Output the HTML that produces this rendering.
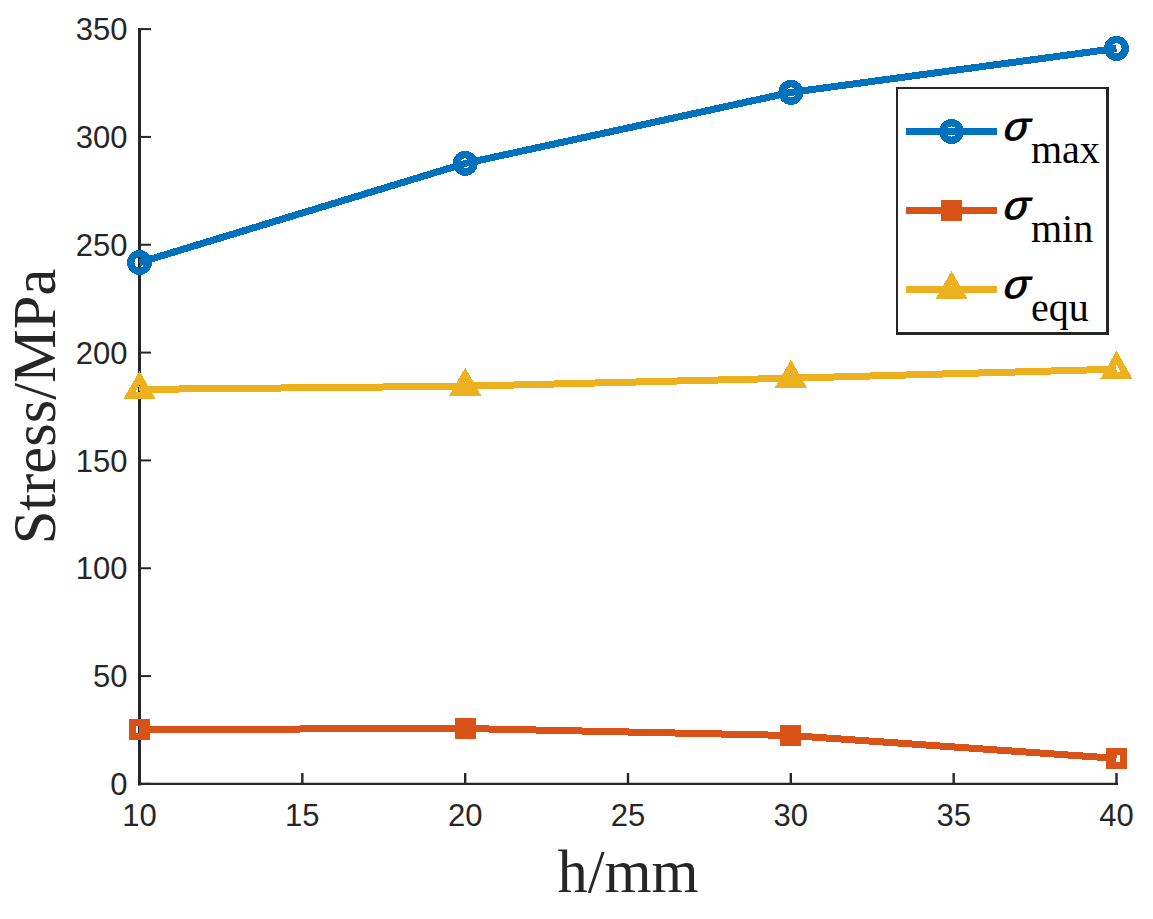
<!DOCTYPE html>
<html><head><meta charset="utf-8"><style>
html,body{margin:0;padding:0;background:#fff;}
svg{display:block;}
.tk{font-family:"Liberation Sans",sans-serif;font-size:31px;fill:#262626;}
.al{font-family:"Liberation Serif",serif;font-size:60.5px;fill:#262626;}
.sg{font-family:"Liberation Sans",sans-serif;font-style:italic;font-size:40px;fill:#000;stroke:#000;stroke-width:0.9px;}
.sb{font-family:"Liberation Serif",serif;font-size:40px;fill:#000;}
</style></head><body>
<svg width="1153" height="919" viewBox="0 0 1153 919">
<rect width="1153" height="919" fill="#fff"/>
<path d="M139.5 28 V785.4" stroke="#262626" stroke-width="3" fill="none"/>
<path d="M138 783.9 H1118" stroke="#262626" stroke-width="2.2" fill="none"/>
<path d="M139.5 783.90 H151" stroke="#262626" stroke-width="2" fill="none"/>
<text x="127.5" y="795.10" text-anchor="end" class="tk">0</text>
<path d="M139.5 676.07 H151" stroke="#262626" stroke-width="2" fill="none"/>
<text x="127.5" y="687.27" text-anchor="end" class="tk">50</text>
<path d="M139.5 568.24 H151" stroke="#262626" stroke-width="2" fill="none"/>
<text x="127.5" y="579.44" text-anchor="end" class="tk">100</text>
<path d="M139.5 460.41 H151" stroke="#262626" stroke-width="2" fill="none"/>
<text x="127.5" y="471.61" text-anchor="end" class="tk">150</text>
<path d="M139.5 352.58 H151" stroke="#262626" stroke-width="2" fill="none"/>
<text x="127.5" y="363.78" text-anchor="end" class="tk">200</text>
<path d="M139.5 244.75 H151" stroke="#262626" stroke-width="2" fill="none"/>
<text x="127.5" y="255.95" text-anchor="end" class="tk">250</text>
<path d="M139.5 136.92 H151" stroke="#262626" stroke-width="2" fill="none"/>
<text x="127.5" y="148.12" text-anchor="end" class="tk">300</text>
<path d="M139.5 29.09 H151" stroke="#262626" stroke-width="2" fill="none"/>
<text x="127.5" y="40.29" text-anchor="end" class="tk">350</text>
<path d="M139.50 783.9 V773" stroke="#262626" stroke-width="2.4" fill="none"/>
<text x="139.50" y="826" text-anchor="middle" class="tk">10</text>
<path d="M302.33 783.9 V773" stroke="#262626" stroke-width="2.4" fill="none"/>
<text x="302.33" y="826" text-anchor="middle" class="tk">15</text>
<path d="M465.17 783.9 V773" stroke="#262626" stroke-width="2.4" fill="none"/>
<text x="465.17" y="826" text-anchor="middle" class="tk">20</text>
<path d="M628.00 783.9 V773" stroke="#262626" stroke-width="2.4" fill="none"/>
<text x="628.00" y="826" text-anchor="middle" class="tk">25</text>
<path d="M790.83 783.9 V773" stroke="#262626" stroke-width="2.4" fill="none"/>
<text x="790.83" y="826" text-anchor="middle" class="tk">30</text>
<path d="M953.67 783.9 V773" stroke="#262626" stroke-width="2.4" fill="none"/>
<text x="953.67" y="826" text-anchor="middle" class="tk">35</text>
<path d="M1116.50 783.9 V773" stroke="#262626" stroke-width="2.4" fill="none"/>
<text x="1116.50" y="826" text-anchor="middle" class="tk">40</text>
<g shape-rendering="crispEdges">
<circle cx="139.50" cy="262.50" r="8.8" fill="none" stroke="#0072BD" stroke-width="7.4"/>
<circle cx="465.20" cy="163.40" r="8.8" fill="none" stroke="#0072BD" stroke-width="7.4"/>
<circle cx="790.90" cy="92.40" r="8.8" fill="none" stroke="#0072BD" stroke-width="7.4"/>
<circle cx="1116.50" cy="48.40" r="8.8" fill="none" stroke="#0072BD" stroke-width="7.4"/>
<polyline points="139.50,262.50 465.20,163.40 790.90,92.40 1116.50,48.40" fill="none" stroke="#0072BD" stroke-width="7" stroke-linejoin="round"/>
<rect x="132.50" y="722.50" width="14" height="14" fill="none" stroke="#D95319" stroke-width="7"/>
<rect x="458.20" y="721.50" width="14" height="14" fill="none" stroke="#D95319" stroke-width="7"/>
<rect x="783.90" y="728.50" width="14" height="14" fill="none" stroke="#D95319" stroke-width="7"/>
<rect x="1109.50" y="751.40" width="14" height="14" fill="none" stroke="#D95319" stroke-width="7"/>
<polyline points="139.50,729.50 465.20,728.50 790.90,735.50 1116.50,758.40" fill="none" stroke="#D95319" stroke-width="7" stroke-linejoin="round"/>
<path d="M139.50 377.90 L149.60 395.50 L129.40 395.50 Z" fill="none" stroke="#EDB120" stroke-width="7" stroke-linejoin="miter"/>
<path d="M465.20 374.70 L475.30 392.30 L455.10 392.30 Z" fill="none" stroke="#EDB120" stroke-width="7" stroke-linejoin="miter"/>
<path d="M790.90 366.70 L801.00 384.30 L780.80 384.30 Z" fill="none" stroke="#EDB120" stroke-width="7" stroke-linejoin="miter"/>
<path d="M1116.50 357.70 L1126.60 375.30 L1106.40 375.30 Z" fill="none" stroke="#EDB120" stroke-width="7" stroke-linejoin="miter"/>
<polyline points="139.50,389.40 465.20,386.20 790.90,378.20 1116.50,369.20" fill="none" stroke="#EDB120" stroke-width="7" stroke-linejoin="round"/>
</g>
<rect x="897" y="88" width="210.5" height="245.5" fill="#fff"/>
<path d="M897 87 V335 M896 88 H1109" stroke="#262626" stroke-width="2" fill="none"/>
<path d="M1107.5 87 V335 M896 333.5 H1109" stroke="#262626" stroke-width="3" fill="none"/>
<g shape-rendering="crispEdges"><circle cx="951.50" cy="131.50" r="8.8" fill="none" stroke="#0072BD" stroke-width="7.4"/>
<path d="M906 131.5 H997" stroke="#0072BD" stroke-width="7" fill="none"/></g>
<text transform="translate(1002.8 139.9) scale(1.03 1) skewX(-9)" class="sg">&#963;</text>
<text x="1031" y="163.1" class="sb">max</text>
<g shape-rendering="crispEdges"><rect x="944.50" y="203.50" width="14" height="14" fill="none" stroke="#D95319" stroke-width="7"/>
<path d="M906 210.5 H997" stroke="#D95319" stroke-width="7" fill="none"/></g>
<text transform="translate(1002.8 218.9) scale(1.03 1) skewX(-9)" class="sg">&#963;</text>
<text x="1031" y="242.1" class="sb">min</text>
<g shape-rendering="crispEdges"><path d="M951.50 278.00 L961.60 295.60 L941.40 295.60 Z" fill="none" stroke="#EDB120" stroke-width="7" stroke-linejoin="miter"/>
<path d="M906 289.5 H997" stroke="#EDB120" stroke-width="7" fill="none"/></g>
<text transform="translate(1002.8 297.9) scale(1.03 1) skewX(-9)" class="sg">&#963;</text>
<text x="1031" y="321.1" class="sb">equ</text>
<text x="628" y="892" text-anchor="middle" class="al">h/mm</text>
<text transform="translate(55 406.5) rotate(-90)" text-anchor="middle" class="al">Stress/MPa</text>
</svg>
</body></html>
